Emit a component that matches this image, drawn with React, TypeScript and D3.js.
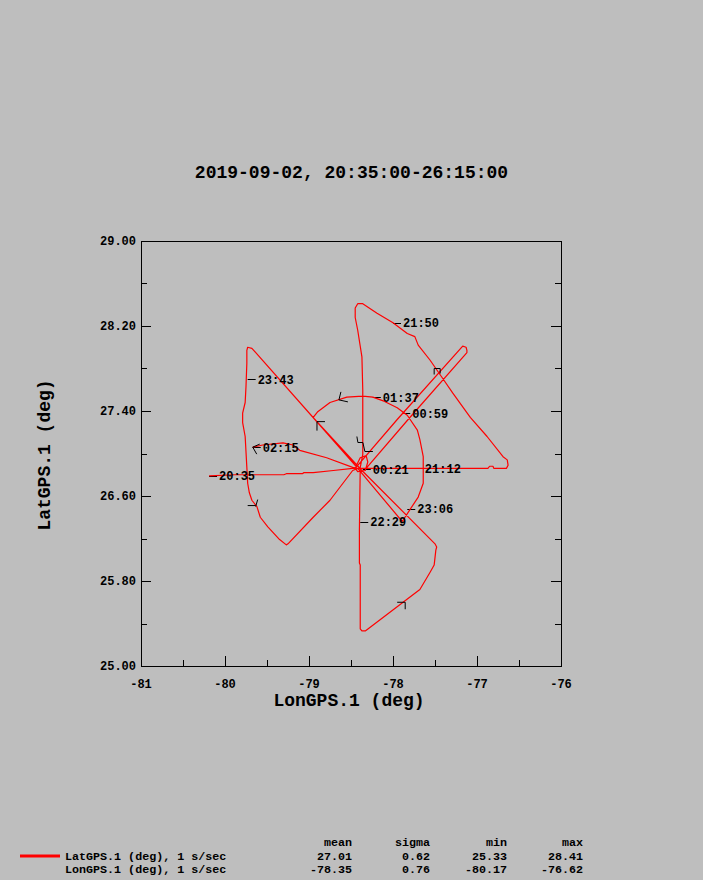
import React from "react";
import * as d3 from "d3";

const W = 703;
const H = 880;

const TITLE = "2019-09-02, 20:35:00-26:15:00";
const X_LABEL = "LonGPS.1 (deg)";
const Y_LABEL = "LatGPS.1 (deg)";

const X_DOMAIN = [-81, -76];
const Y_DOMAIN = [25, 29];
const X_MAJOR = [-81, -80, -79, -78, -77, -76];
const X_MINOR = [-80.5, -79.5, -78.5, -77.5, -76.5];
const Y_MAJOR = [25.0, 25.8, 26.6, 27.4, 28.2, 29.0];
const Y_MINOR = [25.4, 26.2, 27.0, 27.8, 28.6];

// flight track (longitude / latitude, deg)
const trackLon = [
  -80.19, -79.88, -79.3, -79.27, -79.08, -79.06, -78.95, -78.71, -78.48, -78.42,
  -76.87, -76.85, -76.81, -76.8, -76.65, -76.63, -76.64, -76.69, -76.88, -77.08,
  -77.29, -77.42, -77.56, -77.7, -77.74, -77.83, -78.0, -78.19, -78.36, -78.42,
  -78.45, -78.45, -78.42, -78.37, -78.36, -78.36, -78.36, -78.39,
  -78.4, -78.4, -78.39, -78.39, -78.37, -78.33, -77.88, -77.68, -77.56, -77.51,
  -77.49, -77.48, -77.5, -78.37,
  -78.93, -79.68, -79.73, -79.74, -79.74, -79.75, -79.76, -79.79, -79.79, -79.76,
  -79.74, -79.73, -79.71, -79.68, -79.62, -79.58, -79.49, -79.35, -79.27, -79.25,
  -78.95, -78.75, -78.48, -78.42,
  -77.89, -77.8, -77.7, -77.64, -77.64, -77.64, -77.68, -77.71, -77.83, -77.95,
  -78.1, -78.24, -78.36, -78.55, -78.75, -78.9, -78.95, -78.93, -78.44,
  -78.39, -78.32, -78.3, -78.33, -78.42, -78.45,
  -77.95, -77.17, -77.13, -77.12, -77.12, -77.82, -78.32,
  -78.42, -78.48, -78.79, -79.11, -79.19, -79.31, -79.55, -79.67,
];
const trackLat = [
  26.79, 26.8, 26.8, 26.81, 26.81, 26.82, 26.82, 26.84, 26.86, 26.86,
  26.86, 26.88, 26.88, 26.86, 26.86, 26.89, 26.94, 26.97, 27.16, 27.34,
  27.57, 27.72, 27.88, 28.02, 28.1, 28.13, 28.23, 28.32, 28.41, 28.41,
  28.37, 28.28, 28.16, 27.91, 27.6, 27.29, 26.99, 26.87,
  26.28, 25.97, 25.95, 25.35, 25.33, 25.33, 25.6, 25.72, 25.88, 25.95,
  26.09, 26.12, 26.15, 26.84,
  27.32, 27.99, 28.0, 27.97, 27.85, 27.63, 27.48, 27.38, 27.29, 27.16,
  26.87, 26.72, 26.63, 26.56, 26.5, 26.4, 26.31, 26.19, 26.14, 26.15,
  26.4, 26.56, 26.84, 26.86,
  26.36, 26.47, 26.59, 26.72, 26.87, 26.97, 27.13, 27.22, 27.36, 27.43,
  27.49, 27.53, 27.54, 27.53, 27.48, 27.39, 27.34, 27.32, 26.88,
  26.96, 26.98, 26.92, 26.84, 26.83, 26.86,
  27.32, 28.01, 28.0, 27.97, 27.95, 27.32, 26.86,
  26.86, 26.87, 26.96, 27.03, 27.08, 27.1, 27.08, 27.06,
];

// time labels along the track
const timeLabels = ["20:35", "21:12", "21:50", "22:29", "23:06", "23:43", "00:21", "00:59", "01:37", "02:15"];
const timeLon = [-80.19, -77.74, -78.0, -78.39, -77.83, -79.73, -78.36, -77.89, -78.24, -79.67];
const timeLat = [26.79, 26.86, 28.23, 26.36, 26.48, 27.7, 26.85, 27.38, 27.53, 27.06];

// small black direction markers
const markerLon = [-78.905, -77.51, -77.95, -79.73, -78.62, -78.43, -79.67];
const markerLat = [27.3, 27.8, 25.6, 26.51, 27.58, 27.16, 27.06];
const markerShape = [
  "M0,0H8M0,0V9",
  "M0,6V0H6V5",
  "M0,0H8M8,0V7",
  "M0,0H8M10,-6L8,1",
  "M0,0L-2,8L7,10",
  "M0,0L1,6H6L8,15H16",
  "M7,-3L0,0L4,7",
];

// legend / statistics
const legendNames = ["LatGPS.1 (deg), 1 s/sec", "LonGPS.1 (deg), 1 s/sec"];
const statHeaders = ["mean", "sigma", "min", "max"];
const statValues = [
  ["27.01", "0.62", "25.33", "28.41"],
  ["-78.35", "0.76", "-80.17", "-76.62"],
];

const FONT = "'Liberation Mono', 'DejaVu Sans Mono', monospace";
const BG = "#bebebe";

export default function App() {
  const left = 141, right = 561, top = 241, bottom = 666;
  const x = d3.scaleLinear().domain(X_DOMAIN).range([left, right]);
  const y = d3.scaleLinear().domain(Y_DOMAIN).range([bottom, top]);

  const pts = trackLon.map((lo, i) => [lo, trackLat[i]] as [number, number]);
  const line = d3
    .line<[number, number]>()
    .x((d) => x(d[0]))
    .y((d) => y(d[1]));

  const statCols = [352, 430, 507, 583];

  return (
    <svg
      width={W}
      height={H}
      style={{ position: "absolute", left: 0, top: 0, display: "block" }}
      fontFamily={FONT}
    >
      <rect x={0} y={0} width={W} height={H} fill={BG} />
      <text x={351.5} y={178} textAnchor="middle" fontSize={18} fontWeight="bold" fill="#000">
        {TITLE}
      </text>

      {/* frame */}
      <rect
        x={left + 0.5}
        y={top + 0.5}
        width={right - left}
        height={bottom - top}
        fill="none"
        stroke="#000"
        strokeWidth={1}
      />

      {/* x ticks */}
      {X_MAJOR.map((v) => (
        <g key={"xm" + v}>
          <line x1={Math.round(x(v)) + 0.5} x2={Math.round(x(v)) + 0.5} y1={bottom} y2={bottom - 10} stroke="#000" />
          <text x={x(v)} y={688} textAnchor="middle" fontSize={12} fontWeight="bold" fill="#000">
            {String(v)}
          </text>
        </g>
      ))}
      {X_MINOR.map((v) => (
        <line key={"xn" + v} x1={Math.round(x(v)) + 0.5} x2={Math.round(x(v)) + 0.5} y1={bottom} y2={bottom - 6} stroke="#000" />
      ))}

      {/* y ticks */}
      {Y_MAJOR.map((v) => (
        <g key={"ym" + v}>
          <line x1={left} x2={left + 10} y1={Math.round(y(v)) + 0.5} y2={Math.round(y(v)) + 0.5} stroke="#000" />
          <line x1={right} x2={right - 10} y1={Math.round(y(v)) + 0.5} y2={Math.round(y(v)) + 0.5} stroke="#000" />
          <text x={136} y={y(v) + 4} textAnchor="end" fontSize={12} fontWeight="bold" fill="#000">
            {v.toFixed(2)}
          </text>
        </g>
      ))}
      {Y_MINOR.map((v) => (
        <g key={"yn" + v}>
          <line x1={left} x2={left + 6} y1={Math.round(y(v)) + 0.5} y2={Math.round(y(v)) + 0.5} stroke="#000" />
          <line x1={right} x2={right - 6} y1={Math.round(y(v)) + 0.5} y2={Math.round(y(v)) + 0.5} stroke="#000" />
        </g>
      ))}

      {/* axis titles */}
      <text x={349} y={706} textAnchor="middle" fontSize={18} fontWeight="bold" fill="#000">
        {X_LABEL}
      </text>
      <text transform="translate(50,455) rotate(-90)" textAnchor="middle" fontSize={18} fontWeight="bold" fill="#000">
        {Y_LABEL}
      </text>

      {/* time label ticks (under the track) */}
      {timeLabels.map((t, i) => {
        const px = x(timeLon[i]);
        const py = y(timeLat[i]);
        return (
          <line key={"tt" + i} x1={px} x2={px + 8} y1={Math.round(py) + 0.5} y2={Math.round(py) + 0.5} stroke="#000" />
        );
      })}

      {/* track */}
      <path d={line(pts) || ""} fill="none" stroke="#ff0000" strokeWidth={1.2} strokeLinejoin="round" />

      {/* markers */}
      {markerShape.map((s, i) => (
        <path
          key={"mk" + i}
          d={s}
          transform={`translate(${x(markerLon[i])},${y(markerLat[i])})`}
          fill="none"
          stroke="#000"
          strokeWidth={1}
        />
      ))}

      {/* time labels */}
      {timeLabels.map((t, i) => (
        <text key={"tl" + i} x={x(timeLon[i]) + 10} y={y(timeLat[i]) + 4.5} fontSize={12} fontWeight="bold" fill="#000">
          {t}
        </text>
      ))}

      {/* legend */}
      <line x1={20} x2={60} y1={856} y2={856} stroke="#ff0000" strokeWidth={3} />
      {statHeaders.map((h, j) => (
        <text key={"sh" + j} x={statCols[j]} y={846} textAnchor="end" fontSize={11.7} fontWeight="bold" fill="#000">
          {h}
        </text>
      ))}
      {legendNames.map((n, i) => (
        <g key={"ln" + i}>
          <text x={65} y={860 + i * 13} fontSize={11.7} fontWeight="bold" fill="#000">
            {n}
          </text>
          {statValues[i].map((v, j) => (
            <text
              key={"sv" + i + j}
              x={statCols[j]}
              y={860 + i * 13}
              textAnchor="end"
              fontSize={11.7}
              fontWeight="bold"
              fill="#000"
            >
              {v}
            </text>
          ))}
        </g>
      ))}
    </svg>
  );
}
